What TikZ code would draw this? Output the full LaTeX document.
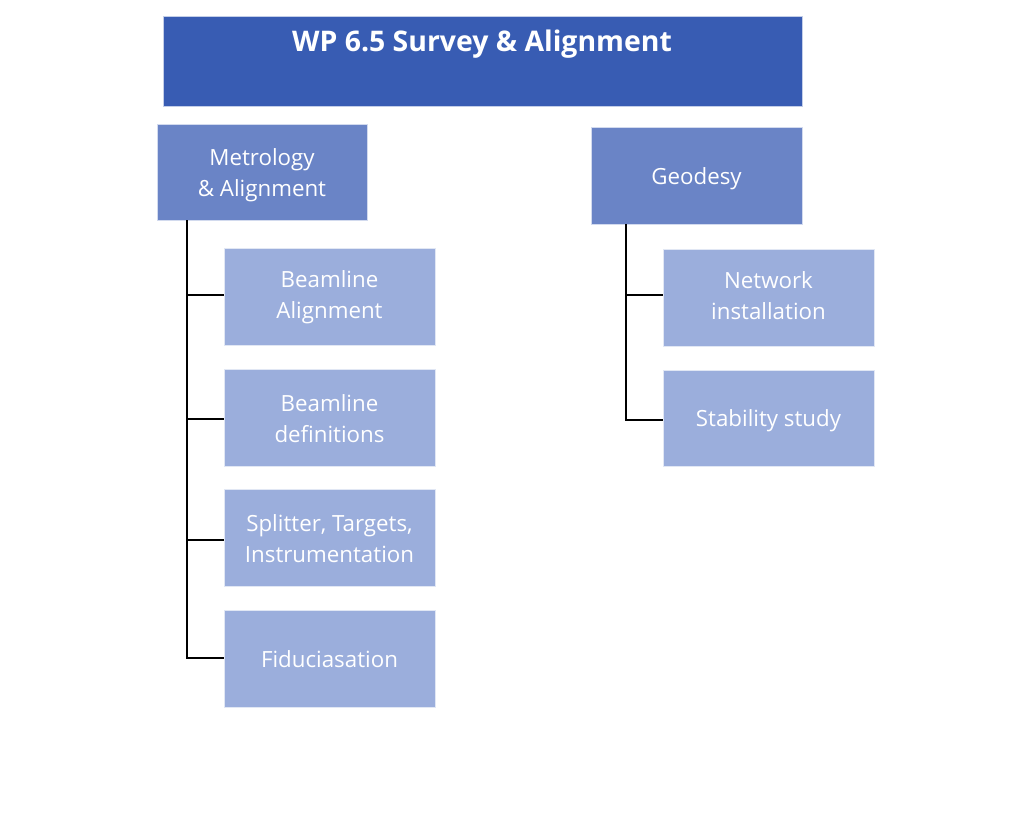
\documentclass[tikz,border=0pt]{standalone}
\usepackage{fontspec}
\setmainfont{Open Sans}
\definecolor{topblue}{RGB}{56,92,179}
\definecolor{midblue}{RGB}{106,132,198}
\definecolor{lowblue}{RGB}{155,174,220}
\begin{document}
\begin{tikzpicture}[x=1pt,y=-1pt,
  box/.style={rectangle,draw=white!70!#1,line width=0.8pt,fill=#1,inner sep=0pt},
  lab/.style={text=white,align=center,inner sep=0pt,font=\fontsize{22.3}{31}\selectfont},
  conn/.style={draw=black,line width=2.3pt}]
\useasboundingbox (0,0) rectangle (1024,814);
\fill[white] (0,0) rectangle (1024,814);
% title
\node[box=topblue,minimum width=639pt,minimum height=90pt,anchor=north west] (wp) at (163,16) {};
\node[text=white,font=\fontsize{28.4}{32}\bfseries\selectfont] (wpt) at (482,44) {WP 6.5 Survey \& Alignment};
% level 2
\node[box=midblue,minimum width=210pt,minimum height=96pt] (met) at (262,172) {};
\node[box=midblue,minimum width=211pt,minimum height=97pt] (geo) at (696.5,175.5) {};
% left children
\node[box=lowblue,minimum width=211pt,minimum height=97pt] (ba) at (329.5,296.5) {};
\node[box=lowblue,minimum width=211pt,minimum height=97pt] (bd) at (329.5,417.5) {};
\node[box=lowblue,minimum width=211pt,minimum height=97pt] (sp) at (329.5,537.5) {};
\node[box=lowblue,minimum width=211pt,minimum height=97pt] (fi) at (329.5,658.5) {};
% right children
\node[box=lowblue,minimum width=211pt,minimum height=97pt] (ni) at (768.5,297.5) {};
\node[box=lowblue,minimum width=211pt,minimum height=96pt] (ss) at (768.5,418) {};
% texts
\node[lab] (mett) at ([yshift=-3pt]met.center) {Metrology\\\& Alignment};
\node[lab] (geot) at ([yshift=-3pt]geo.center) {Geodesy};
\node[lab] (bat) at ([yshift=-1pt]ba.center) {Beamline\\Alignment};
\node[lab] (bdt) at ([yshift=-1pt]bd.center) {Beamline\\definitions};
\node[lab] (spt) at ([yshift=-1pt]sp.center) {Splitter, Targets,\\Instrumentation};
\node[lab] (fit) at ([yshift=-1pt]fi.center) {Fiduciasation};
\node[lab] (nit) at ([yshift=2pt]ni.center) {Network\\installation};
\node[lab] (sst) at ([yshift=-3pt]ss.center) {Stability study};
% connectors
\coordinate (lt) at (187,220);
\coordinate (rt) at (626,224);
\draw[conn] (lt) -- (187,658) -- (fi.west |- 187,658);
\draw[conn] (187,295) -- (ba.west |- 187,295);
\draw[conn] (187,419) -- (bd.west |- 187,419);
\draw[conn] (187,540) -- (sp.west |- 187,540);
\draw[conn] (rt) -- (626,420) -- (ss.west |- 626,420);
\draw[conn] (626,295) -- (ni.west |- 626,295);
\end{tikzpicture}
\end{document}
